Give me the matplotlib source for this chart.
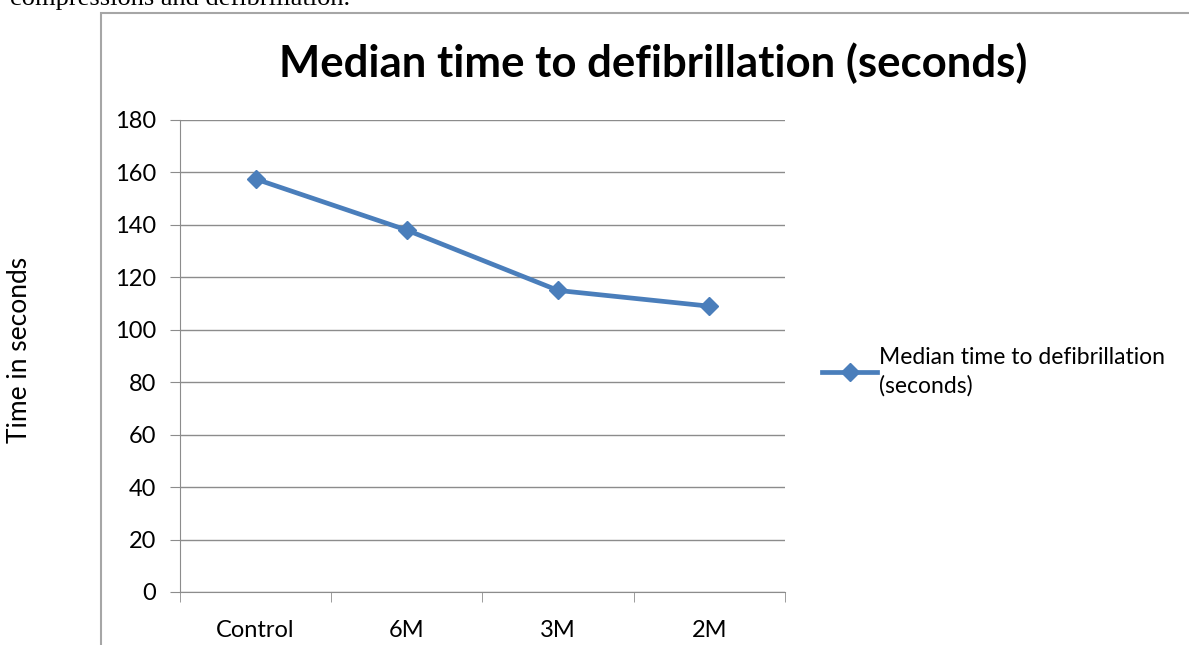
import matplotlib.pyplot as plt
from matplotlib.patches import Rectangle

categories = ["Control", "6M", "3M", "2M"]
median_time = [157.5, 138, 115, 109]
series_label = "Median time to defibrillation\n(seconds)"
y_ticks = list(range(0, 181, 20))

W, H = 1189, 645
fig = plt.figure(figsize=(W / 100, H / 100), dpi=100)
plt.rcParams['font.family'] = ['Lato', 'DejaVu Sans']

# leftover caption text from the page, cut off at the top
fig.text(10 / W, 1 - 5 / H, "compressions and defibrillation.", family='Liberation Serif',
         fontsize=19, va='baseline', ha='left')

# chart frame
fig.patches.append(Rectangle((101 / W, -0.1), 1.2, (H - 13) / H + 0.1,
                             transform=fig.transFigure, fill=False,
                             edgecolor='#a6a6a6', linewidth=1.5))

ax = fig.add_axes([180 / W, (H - 592) / H, (785 - 180) / W, (592 - 120) / H])
x = list(range(len(categories)))
ax.plot(x, median_time, color='#4a7ebb', linewidth=3.4, marker='D', markersize=9,
        label=series_label)

ax.set_xlim(-0.5, len(categories) - 0.5)
ax.set_ylim(0, 180)
ax.set_yticks(y_ticks)
ax.yaxis.grid(True, color='#8c8c8c', linewidth=1)
ax.set_axisbelow(True)
ax.set_xticks(x)
ax.set_xticklabels(categories)
ax.set_xticks([i - 0.5 for i in range(len(categories) + 1)], minor=True)
ax.tick_params(axis='x', which='major', length=0, pad=20, labelsize=17)
ax.tick_params(axis='x', which='minor', length=7, color='#8c8c8c', direction='out')
ax.tick_params(axis='y', length=7, color='#8c8c8c', labelsize=17, pad=10)
for s in ['top', 'right']:
    ax.spines[s].set_visible(False)
for s in ['left', 'bottom']:
    ax.spines[s].set_color('#8c8c8c')

fig.text(20 / W, 1 - 350 / H, "Time in seconds", rotation=90, fontsize=19,
         ha='center', va='center')
fig.text(653 / W, 1 - 63 / H, "Median time to defibrillation (seconds)",
         fontsize=31.5, fontweight='bold', ha='center', va='center')

leg = ax.legend(loc='center left', bbox_to_anchor=(822 / W, 1 - 372 / H),
                bbox_transform=fig.transFigure, frameon=False, fontsize=16.5,
                borderpad=0, borderaxespad=0, handlelength=2.4, handletextpad=0.1,
                labelspacing=0.3)
for t in leg.get_texts():
    t.set_linespacing(1.4)

fig.savefig("out.png", dpi=100)
